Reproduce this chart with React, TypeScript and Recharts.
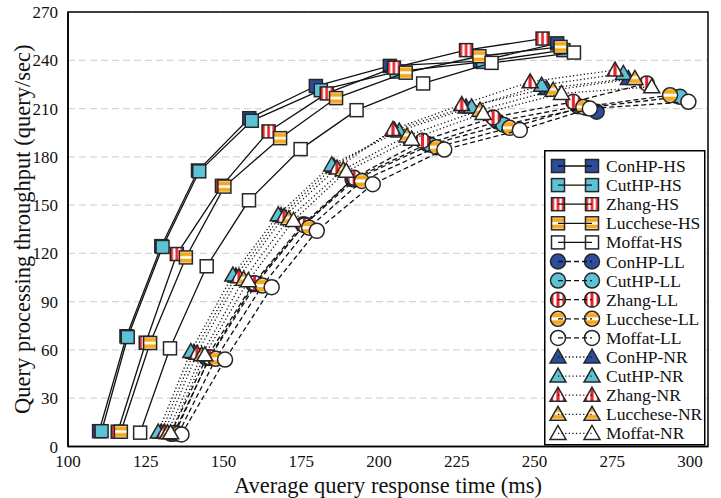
import React from 'react';
import { ScatterChart, Scatter, XAxis, YAxis, CartesianGrid, ReferenceArea, Legend } from 'recharts';

// [x = avg response time (ms), y = throughput (query/sec)]
const conhpHS = [[110, 9.5], [118.8, 68.5], [130, 124.5], [141.8, 171.5], [158.3, 204], [179.7, 224], [203.5, 236.5], [232.5, 239.5], [257.3, 250.5]];
const cuthpHS = [[110.8, 9.5], [119.2, 68], [130.4, 124], [142.2, 171], [159.1, 202.4], [181.3, 221.4], [205.7, 233], [233.5, 239], [259.3, 246.3]];
const zhangHS = [[116, 9.2], [125, 64.5], [135, 119.6], [149.5, 162], [164.5, 195.8], [183.2, 219.4], [204.8, 235.4], [228, 246.3], [252.6, 253.5]];
const luccheseHS = [[117, 9.2], [126.4, 64.3], [137.9, 117.5], [150.3, 161.5], [168.2, 191.6], [186.2, 216.5], [208.6, 232.3], [232.3, 242.5], [258.4, 248.3]];
const moffatHS = [[123.2, 8.6], [132.8, 61], [144.6, 112], [158.2, 153], [174.8, 184.8], [192.8, 209], [214.2, 225.6], [236.2, 238.4], [262.7, 244.8]];

const conhpLL = [[133, 8], [144.5, 55], [159.5, 101], [175.5, 138], [191.5, 166], [215.5, 188], [238, 202], [264, 211.5], [270, 208]];
const cuthpLL = [[134, 8], [145.5, 55], [160.5, 101], [176, 138], [192.5, 166], [216.5, 187.5], [240, 200], [266.5, 210.5], [296.8, 217.3]];
const zhangLL = [[134.5, 8.5], [145.5, 55.5], [160, 101.5], [176, 137.5], [192, 167], [214, 190], [236.7, 204.5], [262.5, 214.2], [286.1, 225.6]];
const luccheseLL = [[135.5, 8], [147.5, 54.5], [162.5, 100], [177.5, 136], [194.5, 165], [218.5, 186], [242, 198], [265.7, 211], [293.6, 218.3]];
const moffatLL = [[136.5, 7.5], [150.5, 54], [165.5, 99], [180, 134], [198, 163], [221, 184.5], [245.3, 196.6], [267.8, 210], [299.5, 214.2]];

const conhpNR = [[130, 9], [140.5, 58.5], [154, 106], [168.5, 143.5], [185.5, 174], [205, 196.5], [228, 211], [253.9, 222.5], [280.2, 228.7]];
const cuthpNR = [[129, 9], [139.5, 59], [153, 106.5], [167.6, 144], [184.8, 175], [206.5, 196], [229.8, 211], [252.3, 224.5], [278.6, 231.8]];
const zhangNR = [[131, 9], [141.5, 58], [155, 105.5], [169.5, 143], [186.5, 173], [204.5, 197], [226.6, 212.5], [248.6, 226.6], [275.9, 233.9]];
const luccheseNR = [[132, 8.5], [143, 57], [156.5, 104], [171, 141.5], [188.5, 172], [209, 193], [232.5, 209], [256, 221.4], [282.3, 228.7]];
const moffatNR = [[133, 8.5], [144, 57], [158, 103], [172.5, 140.5], [189.5, 171], [210.5, 191], [233.5, 207], [258.7, 219.4], [287.7, 223.5]];

const xTicks = [100, 125, 150, 175, 200, 225, 250, 275, 300];
const yTicks = [0, 30, 60, 90, 120, 150, 180, 210, 240, 270];
const XMAX = 305.8;

const FONT = '"Liberation Serif", "Times New Roman", serif';
const BLUE = '#2c4c9c';
const CYAN = '#5cc2d6';
const RED = 'url(#zhangStripe)';
const ORANGE = 'url(#lucStripe)';
const WHITE = '#ffffff';

const SOLID = undefined;
const DASH = '5 3';
const DOT = '1.2 2.4';

const series = [
  { name: 'ConHP-HS', data: conhpHS, shape: 'square', fill: BLUE, dash: SOLID },
  { name: 'CutHP-HS', data: cuthpHS, shape: 'square', fill: CYAN, dash: SOLID },
  { name: 'Zhang-HS', data: zhangHS, shape: 'square', fill: RED, dash: SOLID },
  { name: 'Lucchese-HS', data: luccheseHS, shape: 'square', fill: ORANGE, dash: SOLID },
  { name: 'Moffat-HS', data: moffatHS, shape: 'square', fill: WHITE, dash: SOLID },
  { name: 'ConHP-LL', data: conhpLL, shape: 'circle', fill: BLUE, dash: DASH },
  { name: 'CutHP-LL', data: cuthpLL, shape: 'circle', fill: CYAN, dash: DASH },
  { name: 'Zhang-LL', data: zhangLL, shape: 'circle', fill: RED, dash: DASH },
  { name: 'Lucchese-LL', data: luccheseLL, shape: 'circle', fill: ORANGE, dash: DASH },
  { name: 'Moffat-LL', data: moffatLL, shape: 'circle', fill: WHITE, dash: DASH },
  { name: 'ConHP-NR', data: conhpNR, shape: 'triangle', fill: BLUE, dash: DOT },
  { name: 'CutHP-NR', data: cuthpNR, shape: 'triangle', fill: CYAN, dash: DOT },
  { name: 'Zhang-NR', data: zhangNR, shape: 'triangle', fill: RED, dash: DOT },
  { name: 'Lucchese-NR', data: luccheseNR, shape: 'triangle', fill: ORANGE, dash: DOT },
  { name: 'Moffat-NR', data: moffatNR, shape: 'triangle', fill: WHITE, dash: DOT },
];

const toPoints = (arr: number[][]) => arr.map(([x, y]) => ({ x, y }));

const Marker = ({ shape, fill, cx, cy }: { shape: string; fill: string; cx: number; cy: number }) => {
  const stroke = '#262626';
  if (shape === 'square') {
    return <rect x={cx - 6.5} y={cy - 6.5} width={13} height={13} fill={fill} stroke={stroke} strokeWidth={1.5} />;
  }
  if (shape === 'circle') {
    return <circle cx={cx} cy={cy} r={7.5} fill={fill} stroke={stroke} strokeWidth={1.5} />;
  }
  return (
    <polygon
      points={`${cx},${cy - 8} ${cx - 8},${cy + 6} ${cx + 8},${cy + 6}`}
      fill={fill}
      stroke={stroke}
      strokeWidth={1.5}
      strokeLinejoin="miter"
    />
  );
};

const Patterns = () => (
  <svg width={0} height={0} style={{ position: 'absolute' }}>
    <defs>
      <pattern id="zhangStripe" patternUnits="objectBoundingBox" patternContentUnits="objectBoundingBox" width={1} height={1}>
        <rect x={0} y={0} width={1} height={1} fill="#fff" />
        <rect x={0} y={0} width={0.2} height={1} fill="#e8222a" />
        <rect x={0.4} y={0} width={0.2} height={1} fill="#e8222a" />
        <rect x={0.8} y={0} width={0.2} height={1} fill="#e8222a" />
      </pattern>
      <pattern id="lucStripe" patternUnits="objectBoundingBox" patternContentUnits="objectBoundingBox" width={1} height={1}>
        <rect x={0} y={0} width={1} height={1} fill="#fff" />
        <rect x={0} y={0.1} width={1} height={0.3} fill="#f6a81c" />
        <rect x={0} y={0.6} width={1} height={0.3} fill="#f6a81c" />
      </pattern>
    </defs>
  </svg>
);

const LegendBox = () => (
  <svg width={162} height={296}>
    <rect x={0.75} y={0.75} width={160} height={294} fill="#fff" stroke="#000" strokeWidth={1.5} />
    {series.map((s, i) => {
      const cy = 16 + i * 19.1;
      return (
        <g key={s.name}>
          <Marker shape={s.shape} fill={s.fill} cx={14} cy={cy} />
          <Marker shape={s.shape} fill={s.fill} cx={48} cy={cy} />
          <line x1={14} y1={cy} x2={48} y2={cy} stroke="#111" strokeWidth={1.3} strokeDasharray={s.dash} />
          <text x={62} y={cy} dominantBaseline="central" fontFamily={FONT} fontSize={17.5} fill="#111">
            {s.name}
          </text>
        </g>
      );
    })}
  </svg>
);

export default function App() {
  return (
    <div style={{ position: 'absolute', left: 0, top: 0, width: 721, height: 498, background: '#fff' }}>
      <Patterns />
      <ScatterChart width={721} height={498} margin={{ top: 12, right: 13, bottom: 0, left: 0 }}>
        <CartesianGrid vertical={false} stroke="#d6d6d6" strokeDasharray="7 4" strokeWidth={1.2} />
        <XAxis
          type="number"
          dataKey="x"
          domain={[100, XMAX]}
          ticks={xTicks}
          allowDataOverflow
          height={51.5}
          tickLine={false}
          stroke="#000"
          strokeWidth={1.5}
          tick={{ fill: '#111', fontSize: 17, fontFamily: FONT }}
          label={{ value: 'Average query response time (ms)', position: 'insideBottom', offset: 5, fill: '#111', fontSize: 22.5, fontFamily: FONT }}
        />
        <YAxis
          type="number"
          dataKey="y"
          domain={[0, 270]}
          ticks={yTicks}
          width={68}
          tickLine={false}
          tickMargin={4}
          stroke="#000"
          strokeWidth={1.5}
          tick={{ fill: '#111', fontSize: 17, fontFamily: FONT }}
          label={{
            value: 'Query processing throughput (query/sec)',
            angle: -90,
            position: 'insideLeft',
            offset: 22,
            fill: '#111',
            fontSize: 22.5,
            fontFamily: FONT,
            style: { textAnchor: 'middle' },
          }}
        />
        <ReferenceArea x1={100} x2={XMAX} y1={0} y2={270} fill="none" stroke="#000" strokeWidth={1.5} ifOverflow="visible" />
        {series.map((s) => (
          <Scatter
            key={s.name}
            name={s.name}
            data={toPoints(s.data)}
            line={{ stroke: '#111', strokeWidth: 1.3, strokeDasharray: s.dash }}
            lineType="joint"
            isAnimationActive={false}
            shape={(p: any) => <Marker shape={s.shape} fill={s.fill} cx={p.cx} cy={p.cy} />}
          />
        ))}
        <Legend
          layout="vertical"
          align="center"
          verticalAlign="middle"
          content={() => <LegendBox />}
          wrapperStyle={{ position: 'absolute', left: 544, top: 150, width: 162, height: 296 }}
        />
      </ScatterChart>
    </div>
  );
}
